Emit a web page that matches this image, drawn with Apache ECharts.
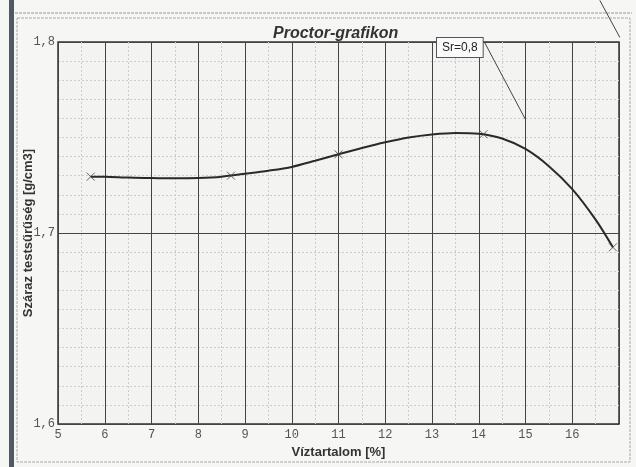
<!DOCTYPE html>
<html>
<head>
<meta charset="utf-8">
<script src="https://cdn.jsdelivr.net/npm/echarts@6/dist/echarts.min.js"></script>
<style>
  html, body { margin: 0; padding: 0; background: #f6f6f4; }
  #chart { width: 636px; height: 467px; }
</style>
</head>
<body>
<div id="chart"></div>
<script>
// measured points (moisture %, dry density g/cm3)
const moisture = [5.7, 8.7, 11.0, 14.1, 16.87]
const density = [1.7295, 1.730, 1.7412, 1.7517, 1.6925]

// fitted Proctor curve
const curveX = [5.7, 6, 6.5, 7, 7.5, 8, 8.5, 9, 9.5, 10, 10.5, 11, 11.5, 12, 12.5, 13, 13.5, 14, 14.5, 15, 15.5, 16, 16.5, 16.87]
const curveY = [1.7295, 1.7295, 1.729, 1.7288, 1.7286, 1.7288, 1.7295, 1.731, 1.7326, 1.7346, 1.7378, 1.7412, 1.7445, 1.7475, 1.750, 1.7516, 1.7524, 1.752, 1.7495, 1.744, 1.735, 1.723, 1.707, 1.6925]

// Sr = 0,8 saturation line segment, and the piece drawn outside the frame
const srX = [14.12, 15.0]
const srY = [1.8, 1.7594]
const srOuterX = [16.59, 17.02]
const srOuterY = [1.8218, 1.8023]
const srLabel = 'Sr=0,8'

const xTicks = [5, 6, 7, 8, 9, 10, 11, 12, 13, 14, 15, 16]

const zip = (a, b) => a.map((v, i) => [v, b[i]])

const chart = echarts.init(document.getElementById('chart'))

const tickFont = { fontFamily: 'Liberation Mono', fontSize: 12, color: '#555' }

chart.setOption({
  backgroundColor: '#f6f6f4',
  animation: false,
  title: {
    text: 'Proctor-grafikon',
    left: 268,
    top: 21,
    textStyle: { fontFamily: 'Liberation Sans', fontSize: 16, fontWeight: 'bold', fontStyle: 'italic', color: '#333' }
  },
  grid: {
    left: 58, right: 17, top: 42, bottom: 43,
    show: true,
    backgroundColor: '#f3f3f1',
    borderColor: '#333',
    borderWidth: 1.5
  },
  xAxis: {
    type: 'value',
    min: 5, max: 17, interval: 1,
    name: 'Víztartalom [%]',
    nameLocation: 'middle',
    nameGap: 22,
    nameMoveOverlap: false,
    nameTextStyle: { fontFamily: 'Liberation Sans', fontSize: 13, fontWeight: 'bold', color: '#333' },
    axisLine: { show: false },
    axisTick: { show: false },
    axisLabel: {
      ...tickFont,
      margin: 5,
      formatter: v => (xTicks.includes(v) ? String(v) : '')
    },
    splitLine: { show: true, lineStyle: { color: '#444', width: 1 } },
    minorTick: { show: false, splitNumber: 2 },
    minorSplitLine: { show: true, lineStyle: { color: '#cdcdcb', width: 1, type: [2, 2] } }
  },
  yAxis: {
    type: 'value',
    min: 1.6, max: 1.8, interval: 0.1,
    name: 'Száraz testsűrűség [g/cm3]',
    nameLocation: 'middle',
    nameGap: 23,
    nameMoveOverlap: false,
    nameTextStyle: { fontFamily: 'Liberation Sans', fontSize: 13, fontWeight: 'bold', color: '#333' },
    axisLine: { show: false },
    axisTick: { show: false },
    axisLabel: {
      ...tickFont,
      margin: 3,
      formatter: v => v.toFixed(1).replace('.', ',')
    },
    splitLine: { show: true, lineStyle: { color: '#444', width: 1 } },
    minorTick: { show: false, splitNumber: 10 },
    minorSplitLine: { show: true, lineStyle: { color: '#cdcdcb', width: 1, type: [2, 2] } }
  },
  graphic: [
    // scanned page edge and frame
    { type: 'rect', shape: { x: 9, y: 0, width: 5, height: 467 }, style: { fill: '#4e5963' }, silent: true },
    { type: 'line', shape: { x1: 15, y1: 13, x2: 632, y2: 13 }, style: { stroke: '#999', lineWidth: 1, lineDash: [3, 1] }, silent: true },
    { type: 'rect', shape: { x: 17, y: 18, width: 613, height: 444 }, style: { fill: 'none', stroke: '#aaa', lineWidth: 1, lineDash: [3, 1] }, silent: true },
    // Sr label box
    {
      type: 'text',
      left: 436, top: 37,
      style: {
        text: srLabel,
        fontFamily: 'Liberation Sans', fontSize: 12, fill: '#222',
        backgroundColor: '#fafafa', borderColor: '#555', borderWidth: 1,
        padding: [4, 5, 3, 5]
      },
      z: 10
    }
  ],
  series: [
    {
      type: 'line',
      data: zip(curveX, curveY),
      smooth: 0.3,
      showSymbol: false,
      lineStyle: { color: '#2a2a2a', width: 2 },
      z: 5
    },
    {
      type: 'scatter',
      data: zip(moisture, density),
      symbol: 'path://M0,0L10,10M10,0L0,10',
      symbolSize: 8,
      itemStyle: { color: 'none', borderColor: '#444', borderWidth: 1 },
      z: 6
    },
    {
      type: 'line',
      data: zip(srX, srY),
      showSymbol: false,
      lineStyle: { color: '#444', width: 1 },
      z: 4
    },
    {
      type: 'line',
      data: zip(srOuterX, srOuterY),
      showSymbol: false,
      clip: false,
      lineStyle: { color: '#444', width: 1 },
      z: 4
    }
  ]
})
</script>
</body>
</html>
